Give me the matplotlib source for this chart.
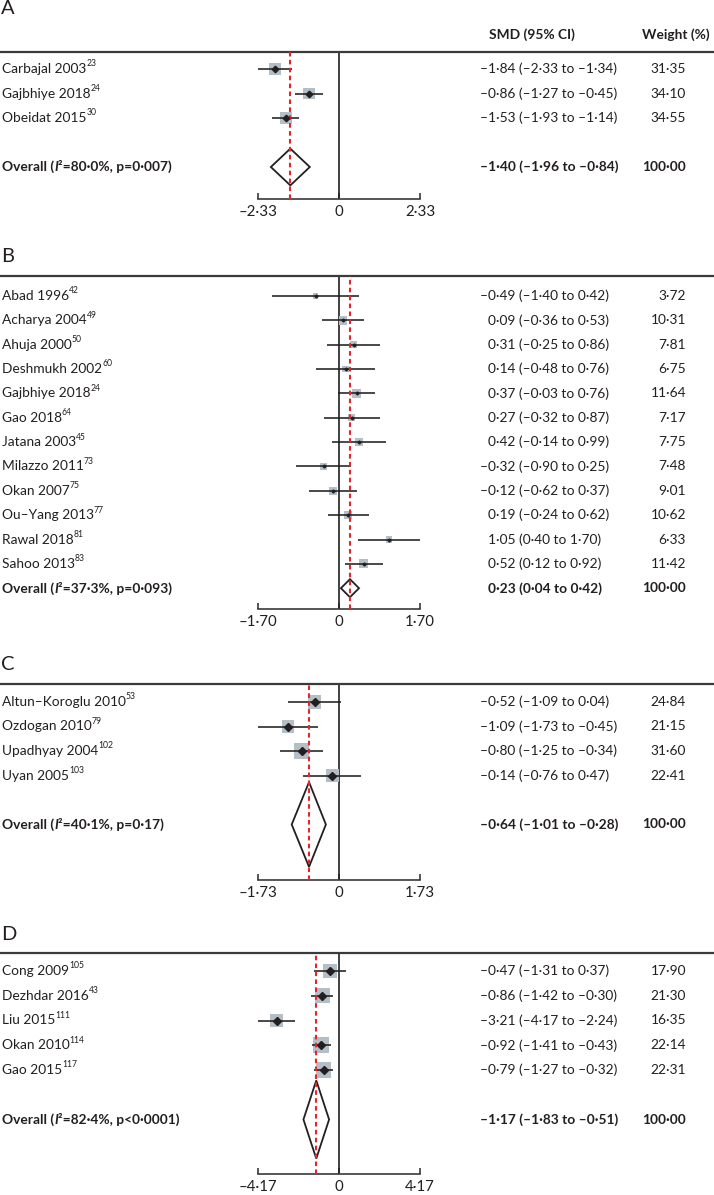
import matplotlib
matplotlib.use('Agg')
import matplotlib.pyplot as plt
from matplotlib.patches import Polygon
from matplotlib.transforms import blended_transform_factory
from matplotlib.ticker import FixedLocator, FuncFormatter
import numpy as np

plt.rcParams['font.family'] = ['Lato', 'DejaVu Sans']

# ---------------- data ----------------
a_studies = ['Carbajal 2003', 'Gajbhiye 2018', 'Obeidat 2015']
a_refs = ['23', '24', '30']
a_smd = [-1.84, -0.86, -1.53]
a_lo = [-2.33, -1.27, -1.93]
a_hi = [-1.34, -0.45, -1.14]
a_weight = [31.35, 34.10, 34.55]
a_overall = [-1.40, -1.96, -0.84]
a_i2 = '80·0%'
a_p = 'p=0·007'
a_range = 2.33

b_studies = ['Abad 1996', 'Acharya 2004', 'Ahuja 2000', 'Deshmukh 2002', 'Gajbhiye 2018',
             'Gao 2018', 'Jatana 2003', 'Milazzo 2011', 'Okan 2007', 'Ou–Yang 2013',
             'Rawal 2018', 'Sahoo 2013']
b_refs = ['42', '49', '50', '60', '24', '64', '45', '73', '75', '77', '81', '83']
b_smd = [-0.49, 0.09, 0.31, 0.14, 0.37, 0.27, 0.42, -0.32, -0.12, 0.19, 1.05, 0.52]
b_lo = [-1.40, -0.36, -0.25, -0.48, -0.03, -0.32, -0.14, -0.90, -0.62, -0.24, 0.40, 0.12]
b_hi = [0.42, 0.53, 0.86, 0.76, 0.76, 0.87, 0.99, 0.25, 0.37, 0.62, 1.70, 0.92]
b_weight = [3.72, 10.31, 7.81, 6.75, 11.64, 7.17, 7.75, 7.48, 9.01, 10.62, 6.33, 11.42]
b_overall = [0.23, 0.04, 0.42]
b_i2 = '37·3%'
b_p = 'p=0·093'
b_range = 1.70

c_studies = ['Altun–Koroglu 2010', 'Ozdogan 2010', 'Upadhyay 2004', 'Uyan 2005']
c_refs = ['53', '79', '102', '103']
c_smd = [-0.52, -1.09, -0.80, -0.14]
c_lo = [-1.09, -1.73, -1.25, -0.76]
c_hi = [0.04, -0.45, -0.34, 0.47]
c_weight = [24.84, 21.15, 31.60, 22.41]
c_overall = [-0.64, -1.01, -0.28]
c_i2 = '40·1%'
c_p = 'p=0·17'
c_range = 1.73

d_studies = ['Cong 2009', 'Dezhdar 2016', 'Liu 2015', 'Okan 2010', 'Gao 2015']
d_refs = ['105', '43', '111', '114', '117']
d_smd = [-0.47, -0.86, -3.21, -0.92, -0.79]
d_lo = [-1.31, -1.42, -4.17, -1.41, -1.27]
d_hi = [0.37, -0.30, -2.24, -0.43, -0.32]
d_weight = [17.90, 21.30, 16.35, 22.14, 22.31]
d_overall = [-1.17, -1.83, -0.51]
d_i2 = '82·4%'
d_p = 'p<0·0001'
d_range = 4.17

panel_letters = ['A', 'B', 'C', 'D']
col_header_ci = 'SMD (95% CI)'
col_header_w = 'Weight (%)'

# ---------------- layout / style ----------------
W, H, DPI = 714, 1195, 100
ZERO_PX, HALF_PX = 339, 81          # x pixel of 0, pixels from 0 to axis end
CI_X, W_X = 480, 686
TXT = '#231f20'
GREY = '#b4bec7'
RED = '#e3262b'
FS = 9.9

layouts = [
    dict(top=52, axis=199, row0=69, step=24.5, gap=2, dh=0.75, mk=6.5, bk=2.0, letter=9),
    dict(top=276, axis=609, row0=296, step=24.35, gap=1, dh=0.37, mk=3.0, bk=2.6, letter=256),
    dict(top=684, axis=880, row0=702, step=24.5, gap=2, dh=1.73, mk=8.0, bk=2.68, letter=665),
    dict(top=953, axis=1174, row0=971, step=24.75, gap=2, dh=1.58, mk=8.5, bk=3.3, letter=934),
]

panels = [
    (a_studies, a_refs, a_smd, a_lo, a_hi, a_weight, a_overall, a_i2, a_p, a_range),
    (b_studies, b_refs, b_smd, b_lo, b_hi, b_weight, b_overall, b_i2, b_p, b_range),
    (c_studies, c_refs, c_smd, c_lo, c_hi, c_weight, c_overall, c_i2, c_p, c_range),
    (d_studies, d_refs, d_smd, d_lo, d_hi, d_weight, d_overall, d_i2, d_p, d_range),
]


def fmt(v):
    s = f"{abs(v):.2f}".replace('.', '·')
    return ('–' + s) if v < 0 else s


def fmt_w(v):
    return f"{v:.2f}".replace('.', '·')


fig = plt.figure(figsize=(W / DPI, H / DPI), dpi=DPI)

for li, (lay, pdata) in enumerate(zip(layouts, panels)):
    studies, refs, smd, lo, hi, wts, ov, i2, pval, rng = pdata
    ppu = HALF_PX / rng
    ax = fig.add_axes([0, 1 - lay['axis'] / H, 1, (lay['axis'] - lay['top']) / H])
    ax.set_xlim((0 - ZERO_PX) / ppu, (W - ZERO_PX) / ppu)
    ybot = (lay['axis'] - lay['row0']) / lay['step']
    ytop = (lay['top'] - lay['row0']) / lay['step']
    ax.set_ylim(ybot, ytop)
    ax.set_facecolor('none')

    n = len(studies)
    ys = np.arange(n, dtype=float)
    y_ov = n - 1 + lay['gap']

    for s in ['left', 'right']:
        ax.spines[s].set_visible(False)
    ax.spines['top'].set_color('#3a3a3a')
    ax.spines['top'].set_linewidth(1.6)
    ax.spines['bottom'].set_color('#3a3a3a')
    ax.spines['bottom'].set_linewidth(1.2)
    ax.spines['bottom'].set_bounds(-rng, rng)
    ax.xaxis.set_major_locator(FixedLocator([-rng, 0, rng]))
    ax.xaxis.set_major_formatter(FuncFormatter(lambda v, p: '0' if abs(v) < 1e-9 else fmt(v)))
    ax.tick_params(axis='x', direction='in', length=4.5, width=1.2, color='#3a3a3a',
                   labelsize=10.8, labelcolor=TXT, pad=4)
    ax.set_yticks([])

    ax.plot([0, 0], [ybot, ytop], color=TXT, lw=1.2, zorder=2, solid_capstyle='butt')
    ax.plot([ov[0], ov[0]], [ybot, ytop], color=RED, lw=1.5, ls=(0, (2.2, 1.6)), zorder=5)

    side_pt = np.array([lay['bk'] * np.sqrt(w) for w in wts]) * 72 / DPI
    ax.scatter(smd, ys, s=side_pt ** 2, marker='s', color=GREY, linewidths=0, zorder=3)
    ax.hlines(ys, lo, hi, color=TXT, lw=1.15, zorder=4)
    mk_pt = lay['mk'] / np.sqrt(2) * 72 / DPI
    ax.plot(smd, ys, ls='none', marker='D', color=TXT, markersize=mk_pt, zorder=6)

    dh = lay['dh']
    dia = Polygon([[ov[1], y_ov], [ov[0], y_ov - dh], [ov[2], y_ov], [ov[0], y_ov + dh]],
                  closed=True, fill=False, edgecolor=TXT, lw=1.3, zorder=4, joinstyle='miter')
    ax.add_patch(dia)

    tr = blended_transform_factory(ax.transAxes, ax.transData)

    for y, name, ref, m, l, h, w in zip(ys, studies, refs, smd, lo, hi, wts):
        t = ax.text(2 / W, y, name, transform=tr, ha='left', va='center', fontsize=FS, color=TXT)
        ax.annotate(ref, xy=(1, 0.55), xycoords=t, xytext=(0.0, 0), textcoords='offset points',
                    ha='left', va='bottom', fontsize=6.2, color=TXT)
        x_ci = CI_X + (0 if m < 0 else 8)
        ax.text(x_ci / W, y, f"{fmt(m)} ({fmt(l)} to {fmt(h)})", transform=tr, ha='left',
                va='center', fontsize=FS, color=TXT)
        ax.text(W_X / W, y, fmt_w(w), transform=tr, ha='right', va='center', fontsize=FS, color=TXT)

    t1 = ax.text(2 / W, y_ov, 'Overall (', transform=tr, ha='left', va='center',
                 fontsize=FS, fontweight='bold', color=TXT)
    t2 = ax.annotate('I', xy=(1, 0), xycoords=t1, ha='left', va='bottom', fontsize=FS,
                     fontweight='bold', fontstyle='italic', color=TXT)
    ax.annotate(f'²={i2}, {pval})', xy=(1, 0), xycoords=t2, ha='left', va='bottom', fontsize=FS,
                fontweight='bold', color=TXT)
    x_ci = CI_X + (0 if ov[0] < 0 else 8)
    ax.text(x_ci / W, y_ov, f"{fmt(ov[0])} ({fmt(ov[1])} to {fmt(ov[2])})", transform=tr,
            ha='left', va='center', fontsize=FS, fontweight='bold', color=TXT)
    ax.text(W_X / W, y_ov, fmt_w(100.0), transform=tr, ha='right', va='center', fontsize=FS,
            fontweight='bold', color=TXT)

    fig.text(1 / W, 1 - lay['letter'] / H, panel_letters[li], ha='left', va='center',
             fontsize=14.5, color=TXT)

    if li == 0:
        hy = (35 - lay['row0']) / lay['step']
        ax.text(489 / W, hy, col_header_ci, transform=tr, ha='left', va='center', fontsize=FS,
                fontweight='bold', color=TXT)
        ax.text(642 / W, hy, col_header_w, transform=tr, ha='left', va='center', fontsize=FS,
                fontweight='bold', color=TXT)

fig.savefig('out.png', dpi=DPI)
